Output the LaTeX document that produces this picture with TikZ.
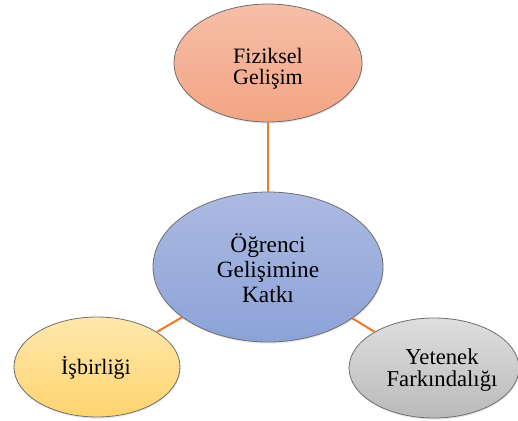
\documentclass[tikz,border=0pt]{standalone}
\usepackage{fontspec}
\setmainfont{Liberation Serif}
\usetikzlibrary{shapes.geometric,shadows}
\definecolor{linkorange}{HTML}{ED7D31}
\definecolor{rimgray}{HTML}{6E6E6E}
\tikzset{
  bubble/.style={ellipse, draw=rimgray, line width=0.6pt, inner sep=0pt,
    drop shadow={opacity=0.18, shadow xshift=0.4pt, shadow yshift=-1.2pt}},
  caption/.style={align=center, inner sep=0pt, font=\fontsize{16.5}{16}\selectfont},
  link/.style={draw=linkorange, line width=1.6pt}
}
\begin{document}
\begin{tikzpicture}[x=0.75pt, y=-0.75pt]
  \useasboundingbox (0,0) rectangle (518,421);
  % outer bubbles
  \node[bubble, minimum width=141pt, minimum height=88.5pt,
        top color={rgb,255:red,246;green,190;blue,168}, bottom color={rgb,255:red,243;green,165;blue,132}]
        (phys) at (268,63) {};
  \node[bubble, minimum width=124.5pt, minimum height=75pt,
        top color={rgb,255:red,255;green,232;blue,172}, bottom color={rgb,255:red,255;green,212;blue,112}]
        (coop) at (97,367) {};
  \node[bubble, minimum width=127.5pt, minimum height=75pt,
        top color={rgb,255:red,222;green,222;blue,222}, bottom color={rgb,255:red,186;green,186;blue,186}]
        (skill) at (434,368) {};
  % central bubble
  \node[bubble, minimum width=172.5pt, minimum height=112.5pt,
        top color={rgb,255:red,172;green,186;blue,226}, bottom color={rgb,255:red,140;green,162;blue,216}]
        (core) at (268,267) {};
  % connectors
  \draw[link] (phys) -- (core);
  \draw[link] (core) -- (coop);
  \draw[link] (core) -- (skill);
  % captions
  \node[caption] (physText) at (268,69) {Fiziksel\\Geli\c{s}im};
  \node[caption] (coopText) at (96,368) {\.I\c{s}birli\u{g}i};
  \node[caption, font=\fontsize{17}{16.5}\selectfont] (skillText) at (442,370) {Yetenek\\Fark\i ndal\i\u{g}\i};
  \node[caption, font=\fontsize{17.5}{18.5}\selectfont] (coreText) at (268,268) {\"O\u{g}renci\\Geli\c{s}imine\\Katk\i};
\end{tikzpicture}
\end{document}
